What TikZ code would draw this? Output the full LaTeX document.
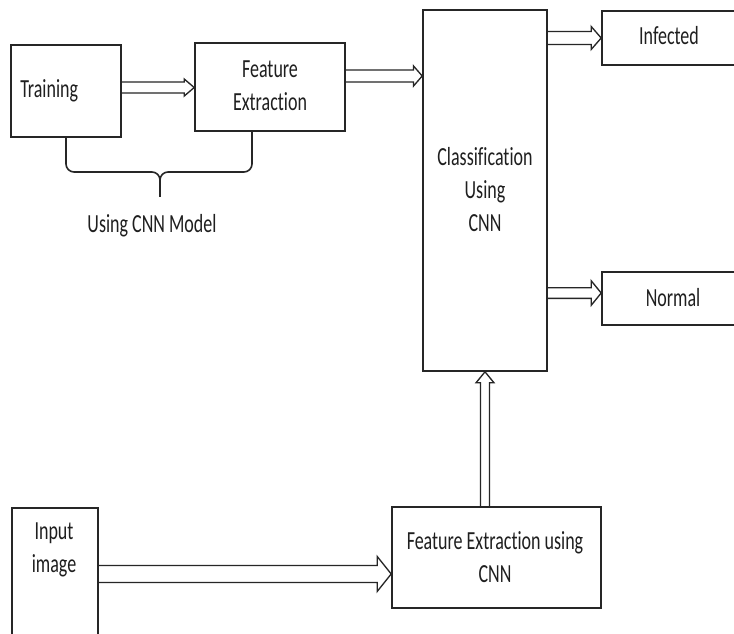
\documentclass[tikz,border=0pt]{standalone}
\usepackage{fontspec}
\usepackage{graphicx}
\setmainfont{Carlito}[Ligatures=NoCommon]
\usetikzlibrary{calc}
\newcommand{\talltext}[1]{\scalebox{1}[1.45]{\begin{tabular}{@{}c@{}}#1\end{tabular}}}
\tikzset{
  box/.style={draw=black!85, line width=1.2pt, inner sep=0pt},
  lbl/.style={font=\fontsize{13.5}{17}\selectfont, text=black!88, inner sep=0pt},
  harrow/.style args={#1/#2/#3}{draw=black!85, line width=1pt,
    to path={($(\tikztotarget)!#3!(\tikztostart)$) coordinate (hab)
      ($(\tikztostart)!#1!90:(\tikztotarget)$) -- ($(hab)!#1!-90:(\tikztostart)$)
      -- ($(hab)!#2!-90:(\tikztostart)$) -- (\tikztotarget)
      -- ($(hab)!#2!90:(\tikztostart)$) -- ($(hab)!#1!90:(\tikztostart)$)
      -- ($(\tikztostart)!#1!-90:(\tikztotarget)$)}},
  brace/.style={draw=black!85, line width=1.2pt, rounded corners=6pt}
}
\begin{document}
\begin{tikzpicture}[x=0.75pt,y=-0.75pt]
\fill[white] (0,0) rectangle (734,634);
\useasboundingbox (0,0) rectangle (734,634);

% boxes
\node[box, minimum width=82.5pt,  minimum height=69pt]     (train) at (66,91) {};
\node[box, minimum width=112.5pt, minimum height=66pt]     (fe1)   at (270,87) {};
\node[box, minimum width=93pt,    minimum height=270.75pt] (cls)   at (485,190.5) {};
\node[box, minimum width=103.5pt, minimum height=40.5pt]   (inf)   at (671,38) {};
\node[box, minimum width=103.5pt, minimum height=39.75pt]  (nor)   at (671,298.5) {};
\node[box, minimum width=156.75pt,minimum height=75.75pt]  (fe2)   at (496.5,557.5) {};
\node[box, minimum width=64.5pt,  minimum height=102.75pt] (inp)   at (55,576.5) {};

% labels
\node[lbl, anchor=west] (ltrain) at (20,91) {\talltext{Training}};
\node[lbl] (lfe1) at (270,87) {\talltext{Feature\\Extraction}};
\node[lbl] (lcls) at (485,192) {\talltext{Classification\\Using\\CNN}};
\node[lbl] (linf) at (669,38) {\talltext{Infected}};
\node[lbl] (lnor) at (673,300) {\talltext{Normal}};
\node[lbl] (lfe2) at (495,559) {\talltext{Feature Extraction using\\CNN}};
\node[lbl] (linp) at (54,549) {\talltext{Input\\image}};
\node[lbl] (lcnn) at (152,226) {\talltext{Using CNN Model}};

% brace
\coordinate (bmid) at (160,172);
\coordinate (btip) at (160,197);
\coordinate (bright) at ([xshift=-13.5pt]fe1.south);
\draw[brace] (train.south) |- (bmid) -- (btip);
\draw[brace] (bright) |- (bmid) -- (btip);

% arrows
\coordinate (a1) at ([yshift=2.6pt]train.east);
\draw[harrow=4.1pt/6.4pt/7.5pt] (a1) to (a1 -| fe1.west);
\coordinate (a2) at ([yshift=8.25pt]fe1.east);
\draw[harrow=4.5pt/7.5pt/6.5pt] (a2) to (a2 -| cls.west);
\draw[harrow=4.9pt/8.6pt/7.5pt] (cls.east |- inf.west) to (inf.west);
\coordinate (a4) at ([yshift=4.1pt]nor.west);
\draw[harrow=4pt/9.2pt/7.5pt] (cls.east |- a4) to (a4);
\draw[harrow=3.4pt/6.75pt/8.25pt] (cls.south |- fe2.north) to (cls.south);
\coordinate (a6) at ([yshift=1.9pt]inp.east);
\draw[harrow=6.4pt/13.1pt/10.5pt] (a6) to (a6 -| fe2.west);
\end{tikzpicture}
\end{document}
